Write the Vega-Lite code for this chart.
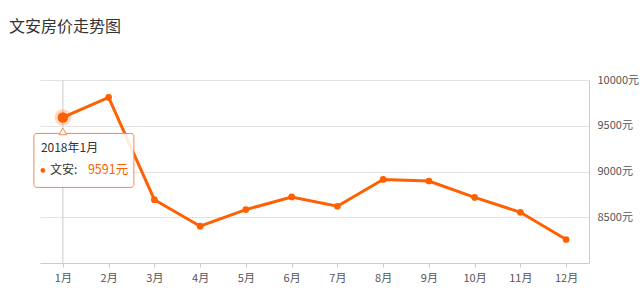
{
  "$schema": "https://vega.github.io/schema/vega-lite/v6.json",
  "width": 549,
  "height": 183,
  "autosize": "none",
  "padding": {"left": 40, "top": 80, "right": 51, "bottom": 29},
  "background": "white",
  "config": {
    "view": {"stroke": null},
    "font": "Noto Sans CJK SC"
  },
  "title": {
    "text": "文安房价走势图",
    "anchor": "start",
    "frame": "group",
    "dx": -31,
    "offset": 23,
    "baseline": "bottom",
    "fontSize": 16,
    "fontWeight": "normal",
    "color": "#333333",
    "font": "Noto Sans CJK SC"
  },
  "datasets": {
    "prices": [
      {"month": "1月", "price": 9591},
      {"month": "2月", "price": 9810},
      {"month": "3月", "price": 8692},
      {"month": "4月", "price": 8402},
      {"month": "5月", "price": 8584},
      {"month": "6月", "price": 8722},
      {"month": "7月", "price": 8620},
      {"month": "8月", "price": 8913},
      {"month": "9月", "price": 8896},
      {"month": "10月", "price": 8717},
      {"month": "11月", "price": 8554},
      {"month": "12月", "price": 8257}
    ],
    "tip": [
      {"month": "1月", "price": 9591, "date": "2018年1月", "series": "文安:", "valueText": "9591元"}
    ]
  },
  "encoding": {
    "x": {
      "field": "month",
      "type": "ordinal",
      "sort": null,
      "scale": {"type": "point", "padding": 0.5},
      "axis": {
        "title": null,
        "labelAngle": 0,
        "domainColor": "#cccccc",
        "tickColor": "#cccccc",
        "tickSize": 4,
        "labelPadding": 5,
        "labelFontSize": 11,
        "labelColor": "#555555",
        "labelFont": "Noto Sans CJK SC",
        "grid": false
      }
    },
    "y": {
      "field": "price",
      "type": "quantitative",
      "scale": {"domain": [8000, 10000], "nice": false, "zero": false},
      "axis": {
        "orient": "right",
        "title": null,
        "values": [8000, 8500, 9000, 9500, 10000],
        "labelExpr": "datum.value == 8000 ? '' : datum.value + '元'",
        "domainColor": "#cccccc",
        "ticks": false,
        "labelPadding": 8,
        "labelFontSize": 11,
        "labelColor": "#555555",
        "labelFont": "Noto Sans CJK SC",
        "gridColor": "#e3e3e3"
      }
    }
  },
  "layer": [
    {
      "data": {"name": "tip"},
      "mark": {"type": "rule", "color": "#cccccc", "strokeWidth": 1},
      "encoding": {"x": {"field": "month", "type": "ordinal", "sort": null}, "y": null}
    },
    {
      "data": {"name": "prices"},
      "mark": {"type": "line", "color": "#ff6000", "strokeWidth": 3}
    },
    {
      "data": {"name": "prices"},
      "mark": {"type": "point", "filled": true, "color": "#ff6000", "size": 45, "opacity": 1}
    },
    {
      "data": {"name": "tip"},
      "mark": {"type": "point", "filled": true, "color": "#ff6000", "size": 270, "opacity": 0.25}
    },
    {
      "data": {"name": "tip"},
      "mark": {"type": "point", "filled": true, "color": "#ff6000", "size": 110, "opacity": 1}
    },
    {
      "data": {"name": "tip"},
      "mark": {
        "type": "rect",
        "fill": "#ffffff",
        "fillOpacity": 0.88,
        "stroke": "#f5894a",
        "strokeWidth": 1,
        "cornerRadius": 3,
        "xOffset": -29,
        "x2Offset": 71,
        "yOffset": 16,
        "y2Offset": 70
      },
      "encoding": {
        "x": {"field": "month", "type": "ordinal", "sort": null},
        "x2": {"field": "month"},
        "y": {"field": "price", "type": "quantitative"},
        "y2": {"field": "price"}
      }
    },
    {
      "data": {"name": "tip"},
      "mark": {
        "type": "point",
        "shape": "triangle-up",
        "filled": true,
        "fill": "#ffffff",
        "stroke": "#f5894a",
        "strokeWidth": 1,
        "size": 60,
        "opacity": 1,
        "yOffset": 14
      }
    },
    {
      "data": {"name": "tip"},
      "mark": {
        "type": "text",
        "align": "left",
        "baseline": "middle",
        "dx": -22,
        "dy": 31,
        "fontSize": 12,
        "color": "#333333",
        "font": "Noto Sans CJK SC"
      },
      "encoding": {"text": {"field": "date"}}
    },
    {
      "data": {"name": "tip"},
      "mark": {
        "type": "point",
        "filled": true,
        "color": "#ff6000",
        "size": 22,
        "opacity": 1,
        "xOffset": -20,
        "yOffset": 53
      }
    },
    {
      "data": {"name": "tip"},
      "mark": {
        "type": "text",
        "align": "left",
        "baseline": "middle",
        "dx": -13,
        "dy": 53,
        "fontSize": 12,
        "color": "#333333",
        "font": "Noto Sans CJK SC"
      },
      "encoding": {"text": {"field": "series"}}
    },
    {
      "data": {"name": "tip"},
      "mark": {
        "type": "text",
        "align": "left",
        "baseline": "middle",
        "dx": 25,
        "dy": 53,
        "fontSize": 12.5,
        "color": "#ff6000",
        "font": "Noto Sans CJK SC"
      },
      "encoding": {"text": {"field": "valueText"}}
    }
  ]
}
